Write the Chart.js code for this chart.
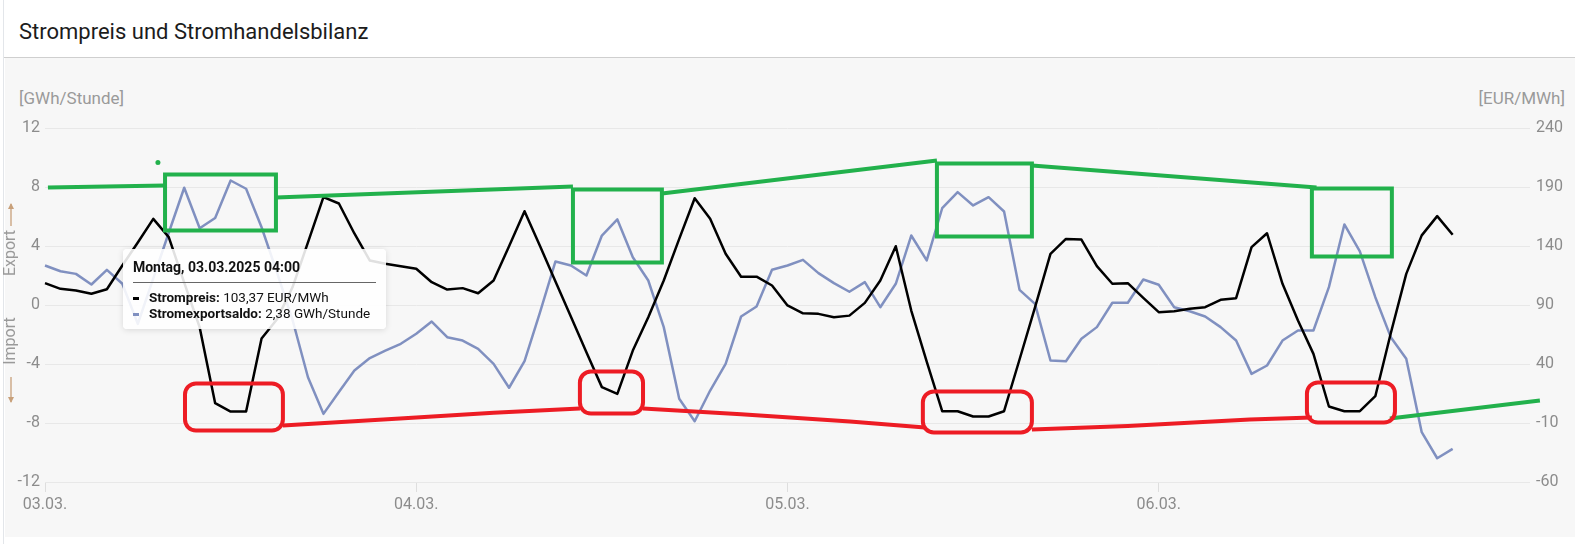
<!DOCTYPE html>
<html lang="de">
<head>
<meta charset="UTF-8">
<title>Strompreis und Stromhandelsbilanz</title>
<script src="https://cdn.jsdelivr.net/npm/chart.js"></script>
<style>
  body { margin: 0; width: 1575px; height: 544px; background: #fff; font-family: Roboto, sans-serif; overflow: hidden; position: relative; }
  .frame { position: absolute; left: 3px; top: 0; bottom: 0; width: 1px; background: #e3e6ea; }
  h1 { position: absolute; left: 19px; top: 19px; margin: 0; font-size: 22px; font-weight: 400; color: #1c1c1c; }
  .rule { position: absolute; left: 4px; right: 0; top: 57px; height: 1px; background: #cfcfcf; }
  .panel { position: absolute; left: 5px; right: 0; top: 58px; height: 479px; background: #f7f7f7; }
  .unit { position: absolute; top: 88px; font-size: 17px; color: #9a9a9a; }
  #chart { position: absolute; left: 0; top: 0; }
  #tip { position: absolute; display: none; background: rgba(255,255,255,0.88); border-radius: 4px;
         box-shadow: 0 1px 6px rgba(0,0,0,0.13); padding: 9px 10px 8px 10px; width: 243px; color: #111; font-size: 13.5px; }
  #tip .t { font-weight: 700; font-size: 14px; line-height: 18px; }
  #tip .sep { height: 1.5px; background: #666; margin: 6px 0 6px 0; }
  #tip .row { line-height: 16px; white-space: nowrap; }
  #tip .mk { display: inline-block; width: 6px; height: 3px; vertical-align: middle; margin-right: 10px; }
</style>
</head>
<body>
  <div class="frame"></div>
  <h1>Strompreis und Stromhandelsbilanz</h1>
  <div class="rule"></div>
  <div class="panel"></div>
  <div class="unit" style="left:19px">[GWh/Stunde]</div>
  <div class="unit" style="right:10px">[EUR/MWh]</div>
  <canvas id="chart" width="1575" height="544"></canvas>
  <div id="tip"></div>

<script>
// x axis: hourly steps, 03.03.2025 00:00 .. 07.03.2025 00:00
const dayLabels = ["03.03.", "04.03.", "05.03.", "06.03."];
const hours = Array.from({ length: 97 }, (_, i) => i);
const leftTicks = [-12, -8, -4, 0, 4, 8, 12];
const rightTicks = [-60, -10, 40, 90, 140, 190, 240];
const weekdays = ["Sonntag", "Montag", "Dienstag", "Mittwoch", "Donnerstag", "Freitag", "Samstag"];

// Strompreis [EUR/MWh], stündlich
const strompreis = [
  108.5, 103.7, 102.3, 99.5, 103.37, 123.5, 143, 163, 147.5, 109, 71, 6.8,
  -0.3, -0.3, 61.6, 78, 105, 143, 181.4, 176, 150.6, 127.7, 125, 122.9,
  120.7, 109.3, 103.1, 104.3, 100, 110.8, 139.8, 169.5, 140, 110, 80, 50,
  20.4, 14.7, 51.4, 79.7, 110.8, 146, 180.5, 163, 133.4, 114, 114, 106.5,
  89.6, 83, 82.5, 79.7, 81, 91.8, 110.8, 139.8, 85.3, 42, 0, 0,
  -4.5, -4.5, 0, 43.8, 88, 133.4, 146, 145.5, 122.9, 108, 108.5, 96,
  83.9, 84.7, 86.8, 88.1, 94.4, 95.8, 139, 150.8, 108, 76.9, 48.6, 4,
  0, 0, 12.7, 66, 116.4, 149, 165.3, 149.5
];

// Stromexportsaldo [GWh/Stunde], stündlich
const exportsaldo = [
  2.68, 2.29, 2.11, 1.39, 2.38, 1.44, -1.28, 1.8, 4.9, 7.95, 5.2, 5.9,
  8.44, 7.88, 5.27, 2.2, -1.0, -4.9, -7.38, -5.9, -4.44, -3.6, -3.1, -2.63,
  -1.95, -1.12, -2.18, -2.41, -2.97, -3.99, -5.61, -3.81, -0.5, 2.95, 2.68, 2.0,
  4.71, 5.8, 3.24, 1.66, -1.5, -6.36, -7.88, -5.8, -3.99, -0.78, -0.1, 2.39,
  2.68, 3.06, 2.16, 1.48, 0.9, 1.55, -0.15, 1.44, 4.71, 3.02, 6.56, 7.65,
  6.75, 7.31, 6.34, 1.03, 0.08, -3.76, -3.81, -2.29, -1.5, 0.15, 0.15, 1.73,
  1.37, -0.15, -0.42, -0.78, -1.5, -2.41, -4.67, -4.1, -2.41, -1.73, -1.73, 1.21,
  5.46, 3.63, 0.53, -2.18, -3.65, -8.62, -10.39, -9.75
];

// hand-drawn markings, in [hour, GWh] units
const greenTrack = [[0.19, 7.97], [7.76, 8.11], null, [14.93, 7.29], [34.13, 8.03], null,
  [39.88, 7.56], [57.66, 9.8], null, [63.8, 9.46], [82.2, 7.97]];
const greenBoxes = [[7.76, 14.93, 8.85, 5.05], [34.13, 39.88, 7.83, 2.88],
  [57.66, 63.8, 9.59, 4.64], [81.9, 87.07, 7.9, 3.29]];
const greenTail = [[86.94, -7.69], [96.64, -6.47]];
const greenDot = [7.3, 9.66];
const redTrack = [[15.38, -8.17], [22.95, -7.69], [29, -7.3], [34.58, -7.02], null,
  [38.66, -7.02], [45, -7.4], [52.04, -7.9], [56.88, -8.31], null,
  [63.8, -8.44], [70, -8.2], [77.89, -7.76], [81.9, -7.63]];
const redBoxes = [[9.05, 15.38, -5.32, -8.51], [34.58, 38.66, -4.51, -7.36],
  [56.75, 63.8, -5.86, -8.64], [81.58, 87.27, -5.25, -7.97]];

const tipIndex = 4;

const GREEN = "#22b14c", RED = "#ed1c24";

const markings = {
  id: "markings",
  afterDatasetsDraw(chart) {
    const ctx = chart.ctx, xs = chart.scales.x, ys = chart.scales.y;
    const px = p => [xs.getPixelForValue(p[0]), ys.getPixelForValue(p[1])];
    ctx.save();
    ctx.lineWidth = 4;
    function track(pts, color) {
      ctx.strokeStyle = color;
      ctx.beginPath();
      let pen = false;
      pts.forEach(p => {
        if (!p) { pen = false; return; }
        const [x, y] = px(p);
        if (pen) ctx.lineTo(x, y); else ctx.moveTo(x, y);
        pen = true;
      });
      ctx.stroke();
    }
    function boxes(list, color, r) {
      ctx.strokeStyle = color;
      list.forEach(b => {
        const [x0, y0] = px([b[0], b[2]]);
        const [x1, y1] = px([b[1], b[3]]);
        ctx.beginPath();
        ctx.roundRect(x0, y0, x1 - x0, y1 - y0, r);
        ctx.stroke();
      });
    }
    track(greenTrack, GREEN);
    track(greenTail, GREEN);
    boxes(greenBoxes, GREEN, 0);
    track(redTrack, RED);
    boxes(redBoxes, RED, 11);
    const [dx, dy] = px(greenDot);
    ctx.fillStyle = GREEN;
    ctx.beginPath(); ctx.arc(dx, dy, 2.5, 0, Math.PI * 2); ctx.fill();

    // Export / Import hint at the left edge
    const y0 = ys.getPixelForValue(0);
    ctx.font = "16px Roboto, sans-serif";
    ctx.fillStyle = "#9a9a9a";
    ctx.textAlign = "center";
    ctx.textBaseline = "middle";
    [["Export", -52], ["Import", 36]].forEach(([t, off]) => {
      ctx.save();
      ctx.translate(11, y0 + off);
      ctx.rotate(-Math.PI / 2);
      ctx.fillText(t, 0, 0);
      ctx.restore();
    });
    ctx.strokeStyle = "#c8a07a";
    ctx.fillStyle = "#c8a07a";
    ctx.lineWidth = 1.3;
    [[y0 - 79, y0 - 101, -1], [y0 + 72, y0 + 97, 1]].forEach(([a, b, d]) => {
      ctx.beginPath(); ctx.moveTo(11, a); ctx.lineTo(11, b); ctx.stroke();
      ctx.beginPath(); ctx.moveTo(11, b + d); ctx.lineTo(8, b - 5 * d); ctx.lineTo(14, b - 5 * d); ctx.closePath(); ctx.fill();
    });
    ctx.restore();
  }
};

const tickFont = { family: "Roboto, sans-serif", size: 16 };
const tickColor = "#8c8c8c";

const chart = new Chart(document.getElementById("chart"), {
  type: "line",
  data: {
    labels: hours,
    datasets: [
      { label: "Strompreis", data: strompreis, yAxisID: "y1", borderColor: "#000", borderWidth: 2.5 },
      { label: "Stromexportsaldo", data: exportsaldo, yAxisID: "y", borderColor: "#8090c0", borderWidth: 2.5 }
    ]
  },
  options: {
    responsive: false,
    animation: false,
    layout: { padding: { left: 0, right: 0, top: 128, bottom: 0 } },
    elements: { point: { radius: 0, hoverRadius: 0 }, line: { tension: 0, borderJoinStyle: "round" } },
    plugins: { legend: { display: false }, tooltip: { enabled: false } },
    scales: {
      x: {
        type: "category",
        grid: { drawOnChartArea: false, drawTicks: true, tickLength: 10, color: "#dedede" },
        border: { display: false },
        ticks: {
          autoSkip: false, maxRotation: 0, padding: 3, font: tickFont, color: tickColor,
          callback: (v, i) => (i % 24 === 0 && i < 96) ? dayLabels[i / 24] : null
        },
        afterFit: s => { s.height = 62; }
      },
      y: {
        position: "left", min: -12, max: 12,
        afterBuildTicks: s => { s.ticks = leftTicks.map(v => ({ value: v })); },
        grid: { color: "#e8e8e8", drawTicks: false },
        border: { display: false },
        ticks: { padding: 5, font: tickFont, color: tickColor },
        afterFit: s => { s.width = 45; }
      },
      y1: {
        position: "right", min: -60, max: 240,
        afterBuildTicks: s => { s.ticks = rightTicks.map(v => ({ value: v })); },
        grid: { drawOnChartArea: false, drawTicks: false },
        border: { display: false },
        ticks: { padding: 6, font: tickFont, color: tickColor },
        afterFit: s => { s.width = 45; }
      }
    }
  },
  plugins: [markings]
});

// hover box for one hour
function fmt(v) { return v.toFixed(2).replace(".", ","); }
function showTip(i) {
  const d = new Date(2025, 2, 3, i);
  const pad = n => String(n).padStart(2, "0");
  const title = weekdays[d.getDay()] + ", " + pad(d.getDate()) + "." + pad(d.getMonth() + 1) + "." + d.getFullYear() + " " + pad(d.getHours()) + ":00";
  const tip = document.getElementById("tip");
  tip.innerHTML =
    '<div class="t">' + title + '</div><div class="sep"></div>' +
    '<div class="row"><span class="mk" style="background:#000"></span><b>Strompreis:</b> ' + fmt(strompreis[i]) + ' EUR/MWh</div>' +
    '<div class="row"><span class="mk" style="background:#8090c0"></span><b>Stromexportsaldo:</b> ' + fmt(exportsaldo[i]) + ' GWh/Stunde</div>';
  tip.style.display = "block";
  const pt = chart.getDatasetMeta(0).data[i];
  tip.style.left = (pt.x + 16) + "px";
  tip.style.top = (pt.y - tip.offsetHeight / 2) + "px";
}
showTip(tipIndex);
</script>
</body>
</html>
